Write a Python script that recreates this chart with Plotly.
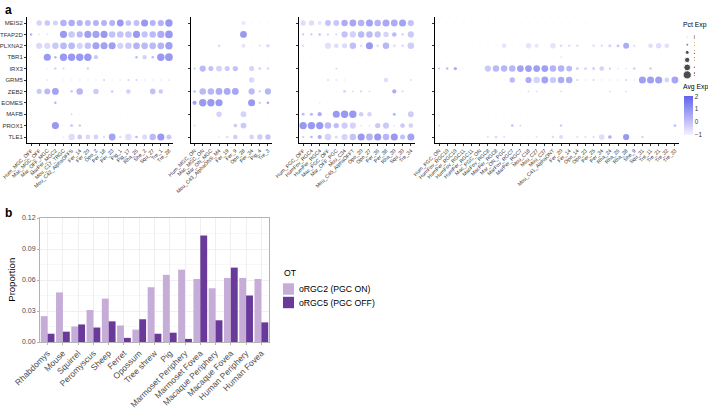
import plotly.graph_objects as go

W, H = 708, 414


def px_x(p):
    return p / W


def px_y(p):
    return 1 - p / H


FONT = "Liberation Sans, Arial, sans-serif"

# ---------------- Panel a data ----------------
genes = ["MEIS2", "TFAP2D", "PLXNA2", "TBR1", "IRX3", "GRM5", "ZEB2", "EOMES", "MAFB", "PROX1", "TLE1"]

f1_labels = ["Hum_MGC_OFF", "Mac_MGC_OFF", "Mar_OFF_MGC", "MarPer_MGC2", "Mou_C17_TRGC", "Mou_C42_AlphaOFFS",
             "Fer_14", "Fer_20", "Opo_2", "Per_18", "Per_23", "Pig_1", "Pig_17", "Rha_26", "She_2", "Squ_27",
             "Tre_1", "Tre_28"]
f1_pct = [
    [3, 30, 32, 28, 38, 38, 36, 34, 34, 34, 34, 40, 32, 34, 42, 34, 36, 44],
    [10, 5, 5, 2, 42, 38, 36, 42, 42, 42, 38, 38, 38, 42, 36, 38, 42, 46],
    [3, 36, 36, 38, 40, 40, 36, 38, 42, 42, 42, 36, 38, 40, 40, 40, 40, 44],
    [2, 2, 42, 10, 44, 44, 44, 44, 22, 2, 2, 2, 2, 10, 24, 10, 44, 46],
    [2, 2, 3, 10, 8, 2, 2, 10, 2, 2, 2, 2, 2, 2, 2, 2, 2, 2],
    [2, 2, 5, 2, 3, 3, 3, 3, 3, 8, 3, 3, 8, 6, 3, 3, 3, 5],
    [3, 28, 34, 40, 3, 12, 38, 3, 30, 3, 10, 3, 24, 3, 3, 32, 24, 3],
    [2, 2, 2, 10, 2, 2, 2, 2, 2, 2, 2, 2, 2, 2, 2, 2, 2, 2],
    [2, 2, 2, 3, 2, 5, 2, 2, 2, 2, 2, 2, 2, 2, 2, 2, 2, 2],
    [2, 2, 2, 42, 2, 14, 10, 2, 2, 2, 2, 2, 2, 2, 2, 2, 2, 2],
    [2, 2, 2, 2, 5, 38, 26, 26, 26, 10, 40, 10, 38, 12, 28, 38, 42, 28],
]
f1_exp = [
    [-1, 0, 0.3, 0, 1, 1.2, 1, 0.8, 1, 1, 1, 1.8, 0.5, 0.6, 1.8, 1, 1, 1.8],
    [1, -0.5, -0.5, -1, 1.8, 0.3, 0.8, 1.6, 1.5, 1.8, 0.5, 0.5, 0.5, 1.8, 0.5, 0.8, 1.2, 1.8],
    [-1, -0.2, -0.2, 0.3, 0.8, 0.8, 0, 0.5, 1.5, 1.5, 1.6, 0, 0.3, 1, 0.8, 0.8, 1, 1.6],
    [-1, -1, 1.8, 1, 1.8, 1.8, 1.8, 1.8, 0.3, -1, -1, -1, -1, 0.8, 0, 0.8, 1.8, 1.8],
    [-1, -1, -0.5, 0, 0, -1, -1, 0, -1, -1, -1, -1, -1, -1, -1, -1, -1, -1],
    [-1, -1, -0.3, -1, -0.5, -0.5, -0.5, -0.5, -0.5, 0, -0.5, -0.5, 0, 0.2, -0.5, -0.5, -0.5, -0.3],
    [-1, 0.3, 0.8, 1.5, -1, 0.2, 0.9, -1, 0.3, -1, 0.3, -1, 0.1, -1, -1, 0.6, 0.3, -1],
    [-1, -1, -1, 1, -1, -1, -1, -1, -1, -1, -1, -1, -1, -1, -1, -1, -1, -1],
    [-1, -1, -1, -1, -1, 0, -1, -1, -1, -1, -1, -1, -1, -1, -1, -1, -1, -1],
    [-1, -1, -1, 1.8, -1, 0.2, 0.3, -1, -1, -1, -1, -1, -1, -1, -1, -1, -1, -1],
    [-1, -1, -1, -1, -0.5, -0.3, 0.3, -0.2, 0, -0.3, 1.5, -0.3, -0.3, 0.8, -0.2, 0.8, 1.8, 0.3],
]

f2_labels = ["Hum_MGC_ON", "Mac_MGC_ON", "Mar_ON_MGC", "Mou_C43_AlphaONS_M4", "Fer_19", "Fer_9",
             "Opo_28", "Per_34", "Pig_4", "Tre_3"]
f2_pct = [
    [2, 2, 2, 2, 2, 2, 22, 3, 3, 3],
    [2, 2, 2, 2, 2, 2, 40, 3, 2, 2],
    [2, 2, 2, 12, 3, 3, 20, 3, 10, 18],
    [2, 2, 2, 2, 2, 2, 2, 2, 2, 2],
    [8, 36, 28, 34, 28, 30, 4, 28, 12, 10],
    [2, 2, 2, 2, 2, 2, 2, 30, 3, 3],
    [10, 38, 38, 40, 40, 40, 3, 36, 8, 36],
    [22, 44, 44, 42, 2, 2, 2, 42, 8, 12],
    [2, 2, 2, 30, 2, 2, 34, 3, 2, 2],
    [5, 2, 2, 3, 2, 18, 34, 3, 2, 2],
    [2, 2, 2, 5, 12, 24, 4, 26, 30, 30],
]
f2_exp = [
    [-1, -1, -1, -1, -1, -1, -0.6, -1, -1, -1],
    [-1, -1, -1, -1, -1, -1, 1.8, -1, -1, -1],
    [-1, -1, -1, -0.3, -1, -1, -0.5, -1, -0.5, -0.2],
    [-1, -1, -1, -1, -1, -1, -1, -1, -1, -1],
    [0.3, 0.8, 0.6, 0, 0.3, 0.5, -1, 0, 0, 0],
    [-1, -1, -1, -1, -1, -1, -1, -0.2, -1, -1],
    [0.8, 0.8, 0.9, 1.2, 1.3, 1.4, -1, 0.8, 0.3, 0.9],
    [1.5, 1.8, 1.8, 1.8, -1, -1, -1, 1.8, 0.5, 1.2],
    [-1, -1, -1, 0, -1, -1, 0, -1, -1, -1],
    [0, -1, -1, -1, -1, 0.3, 0.3, -1, -1, -1],
    [-1, -1, -1, -0.5, -0.3, 0.2, -1, 0, 0.2, 0.5],
]

f3_labels = ["Hum_PGC_OFF", "HumFov_RGC4", "HumPer_RGC4", "Mac_PGC_OFF", "Mar_OFF_PGC", "Mou_C34",
             "Mou_C45_AlphaOFFT", "Opo_20", "Opo_27", "Per_36", "Per_38", "Rha_30", "Squ_30", "Tre_34"]
f3_pct = [
    [30, 30, 20, 34, 34, 38, 40, 38, 42, 38, 42, 40, 42, 36],
    [8, 8, 10, 10, 8, 36, 36, 38, 38, 36, 30, 24, 12, 36],
    [8, 3, 3, 36, 26, 28, 38, 10, 42, 12, 38, 12, 12, 38],
    [2, 2, 2, 2, 2, 2, 2, 2, 2, 2, 2, 2, 2, 2],
    [2, 2, 2, 2, 6, 2, 2, 2, 2, 2, 2, 2, 2, 2],
    [2, 2, 2, 8, 6, 4, 3, 3, 3, 3, 24, 3, 3, 8],
    [2, 2, 2, 3, 3, 12, 6, 8, 6, 3, 3, 22, 6, 3],
    [2, 2, 3, 2, 2, 2, 2, 2, 2, 2, 2, 2, 2, 2],
    [12, 14, 22, 3, 42, 44, 44, 24, 24, 3, 3, 14, 3, 34],
    [44, 44, 44, 38, 30, 36, 36, 6, 6, 30, 36, 5, 26, 26],
    [8, 12, 22, 38, 14, 36, 38, 42, 40, 42, 38, 42, 28, 42],
]
f3_exp = [
    [-0.3, -0.3, -0.5, 0.5, 0.4, 1.2, 1.4, 1.0, 1.5, 1.0, 1.3, 1.2, 1.5, 0.5],
    [0.3, 0.3, 0.6, -0.2, -0.3, 0.5, 0.1, 0.8, 0.8, 0.5, 0, 0.8, -0.2, 0.3],
    [-0.3, -1, -1, -0.4, -0.3, -0.2, 0.6, -0.3, 1.8, -0.3, 0.9, -0.3, -0.3, 0.2],
    [-1, -1, -1, -1, -1, -1, -1, -1, -1, -1, -1, -1, -1, -1],
    [-1, -1, -1, -1, 0, -1, -1, -1, -1, -1, -1, -1, -1, -1],
    [-1, -1, -1, -0.2, -0.5, -0.6, -1, -1, -1, -1, -0.3, -1, -1, -0.5],
    [-1, -1, -1, -1, -1, 0, -0.3, 0, -0.3, -1, -1, 1.2, 0, -1],
    [-1, -1, -0.5, -1, -1, -1, -1, -1, -1, -1, -1, -1, -1, -1],
    [0.8, 0.8, 1.2, -1, 1.8, 1.8, 1.8, 0.2, 0, -1, -1, 0.8, -1, 0.2],
    [1.8, 1.8, 1.8, 0.8, 0.7, 0.2, 0, -0.5, -0.5, 0.3, 0.3, -0.5, 0.3, 0],
    [0.3, 0.8, 1.2, 0, -0.2, 0, 0.5, 1.8, 1, 1.8, 0.9, 1.8, 0.6, 1.5],
]

f4_labels = ["Hum_PGC_ON", "HumFov_RGC10", "HumPer_RGC10", "HumFov_RGC11", "HumPer_RGC11", "Mac_PGC_ON",
             "MacFov_RGC8", "MacPer_RGC8", "Mar_ON_PGC", "MarFov_RGC7", "MarPer_RGC7", "Mou_C18", "Mou_C27",
             "Mou_C37", "Mou_C41_AlphaONT", "Fer_20", "Fer_14", "Opo_14", "Opo_23", "Per_25", "Per_34",
             "Rha_24", "Rha_26", "Rha_28", "She_9", "Squ_31", "Tre_11", "Tre_21", "Tre_32", "Tre_33"]
f4_pct = [
    [2, 2, 2, 3, 2, 2, 2, 2, 2, 3, 2, 2, 2, 2, 2, 3, 2, 2, 3, 2, 2, 3, 2, 2, 3, 2, 2, 2, 2, 2],
    [2, 2, 2, 2, 2, 2, 2, 2, 2, 2, 3, 2, 2, 2, 2, 2, 2, 2, 2, 3, 2, 2, 2, 2, 2, 2, 3, 2, 2, 2],
    [2, 2, 2, 2, 2, 3, 3, 3, 24, 3, 3, 30, 22, 3, 32, 12, 10, 10, 4, 10, 10, 14, 14, 34, 8, 3, 24, 30, 26, 3],
    [2, 2, 2, 2, 2, 2, 2, 2, 2, 2, 2, 2, 2, 2, 2, 5, 2, 2, 2, 2, 2, 2, 2, 2, 2, 2, 2, 2, 2, 2],
    [8, 10, 16, 3, 3, 3, 36, 38, 38, 38, 40, 40, 40, 40, 38, 38, 34, 14, 14, 14, 26, 8, 5, 6, 12, 3, 10, 3, 3, 3],
    [2, 2, 2, 2, 2, 2, 3, 3, 4, 30, 3, 36, 38, 40, 36, 38, 38, 8, 4, 8, 4, 4, 4, 8, 4, 42, 42, 42, 26, 40],
    [2, 2, 2, 2, 2, 2, 3, 3, 3, 3, 3, 5, 5, 3, 3, 6, 3, 3, 3, 3, 3, 5, 3, 5, 3, 3, 3, 3, 3, 3],
    [2, 2, 2, 2, 2, 2, 2, 2, 2, 2, 2, 2, 2, 2, 2, 2, 2, 2, 2, 2, 2, 2, 2, 2, 2, 2, 2, 2, 2, 2],
    [2, 2, 2, 2, 2, 2, 2, 3, 2, 2, 3, 2, 2, 3, 2, 2, 2, 2, 2, 2, 2, 2, 2, 2, 2, 2, 2, 2, 2, 2],
    [6, 2, 2, 2, 2, 2, 3, 3, 3, 12, 6, 3, 3, 3, 3, 10, 3, 3, 3, 3, 3, 3, 3, 3, 3, 3, 3, 3, 3, 14],
    [2, 2, 2, 2, 2, 2, 8, 14, 8, 3, 3, 3, 6, 3, 10, 20, 3, 8, 8, 6, 32, 18, 3, 36, 3, 10, 3, 3, 3, 3],
]
f4_exp = [
    [-1, -1, -1, -1, -1, -1, -1, -1, -1, -1, -1, -1, -1, -1, -1, -1, -1, -1, -1, -1, -1, -1, -1, -1, -1, -1, -1, -1, -1, -1],
    [-1, -1, -1, -1, -1, -1, -1, -1, -1, -1, -1, -1, -1, -1, -1, -1, -1, -1, -1, -1, -1, -1, -1, -1, -1, -1, -1, -1, -1, -1],
    [-1, -1, -1, -1, -1, -1, -1, -1, -0.5, -1, -1, -0.5, -0.6, -1, -0.5, -0.3, -0.3, -0.3, -1, -0.3, -0.3, 0, 0.3, 1.2, -0.2, -1, -0.3, -0.3, -0.4, -1],
    [-1, -1, -1, -1, -1, -1, -1, -1, -1, -1, -1, -1, -1, -1, -1, -0.5, -1, -1, -1, -1, -1, -1, -1, -1, -1, -1, -1, -1, -1, -1],
    [0.3, 0.8, 1.2, -1, -1, -1, 0.3, 0.8, 0.9, 0.9, 1.5, 1.6, 1.6, 1.6, 1.0, 1.0, 0.8, 0, -0.2, 0, 0, 0.3, -0.5, -0.5, 0, -1, 0.3, -1, -1, -1],
    [-1, -1, -1, -1, -1, -1, -1, -1, -1, 0.8, -1, 1.2, 0, 1.5, 0.3, 1.2, 1.2, 0, -0.5, 0, -0.5, -0.5, -0.5, 0, -0.5, 1.6, 1.6, 1.6, 0, 1.4],
    [-1, -1, -1, -1, -1, -1, -1, -1, -1, -1, -1, -0.3, -0.3, -1, -1, -0.3, -1, -1, -1, -1, -1, -0.3, -1, -0.3, -1, -1, -1, -1, -1, -1],
    [-1, -1, -1, -1, -1, -1, -1, -1, -1, -1, -1, -1, -1, -1, -1, -1, -1, -1, -1, -1, -1, -1, -1, -1, -1, -1, -1, -1, -1, -1],
    [-1, -1, -1, -1, -1, -1, -1, -1, -1, -1, -1, -1, -1, -1, -1, -1, -1, -1, -1, -1, -1, -1, -1, -1, -1, -1, -1, -1, -1, -1],
    [0, -1, -1, -1, -1, -1, -1, -1, -1, 0.5, 0, -1, -1, -1, -1, 0.3, -1, -1, -1, -1, -1, -1, -1, -1, -1, -1, -1, -1, -1, 0.3],
    [-1, -1, -1, -1, -1, -1, -0.3, -0.3, -0.3, -1, -1, -1, -0.5, -1, -0.3, -0.2, -1, -0.3, -0.3, 0, -0.3, 1.2, -1, 1.8, -1, 0, -1, -1, -1, -1],
]

pct_legend = [0, 10, 20, 30, 40, 50]

# ---------------- Panel b data ----------------
species = ["Rhabdomys", "Mouse", "Squirrel", "Peromyscus", "Sheep", "Ferret", "Opossum", "Tree shrew", "Pig",
           "Marmoset Periphery", "Marmoset Fovea", "Macaque Periphery", "Macaque Fovea", "Human Periphery",
           "Human Fovea"]
orgc2_on = [0.025, 0.048, 0.015, 0.031, 0.042, 0.016, 0.012, 0.053, 0.065, 0.070, 0.061, 0.052, 0.062, 0.062, 0.061]
orgc5_off = [0.008, 0.010, 0.017, 0.014, 0.020, 0.004, 0.022, 0.008, 0.009, 0.003, 0.103, 0.021, 0.072, 0.045, 0.019]
ot_names = ["oRGC2 (PGC ON)", "oRGC5 (PGC OFF)"]
ot_colors = ["#C6ADD8", "#6A3A9A"]


def dot_size(p):
    return 1.0 + 0.145 * p


fig = go.Figure()

facets = [(f1_labels, f1_pct, f1_exp), (f2_labels, f2_pct, f2_exp),
          (f3_labels, f3_pct, f3_exp), (f4_labels, f4_pct, f4_exp)]
x_domains = [(27, 173), (190.5, 272), (299, 415), (435, 679)]
y_dom = [px_y(142.7), px_y(17.3)]

layout_axes = {}
for i, (labels, pct, exp) in enumerate(facets):
    xs, ys, ss, cs = [], [], [], []
    for gi, g in enumerate(genes):
        for ci, lab in enumerate(labels):
            xs.append(lab)
            ys.append(g)
            ss.append(dot_size(pct[gi][ci]))
            cs.append(exp[gi][ci])
    sfx = "" if i == 0 else str(i + 1)
    fig.add_trace(go.Scatter(
        x=xs, y=ys, mode="markers", xaxis="x" + sfx, yaxis="y" + sfx,
        marker=dict(size=ss, color=cs, coloraxis="coloraxis", line=dict(width=0)),
        showlegend=False, hoverinfo="skip"))
    d0, d1 = x_domains[i]
    layout_axes["xaxis" + sfx] = dict(
        domain=[px_x(d0), px_x(d1)], anchor="y" + sfx, type="category", automargin=False,
        categoryorder="array", categoryarray=labels, range=[-0.5, len(labels) - 0.5],
        showline=True, linecolor="black", linewidth=1, ticks="outside", ticklen=2, tickwidth=0.8,
        tickcolor="black", tickangle=-45, tickfont=dict(size=5.2, color="#333333", family=FONT),
        showgrid=False, zeroline=False, fixedrange=True)
    layout_axes["yaxis" + sfx] = dict(
        domain=y_dom, anchor="x" + sfx, type="category", categoryorder="array", categoryarray=genes,
        automargin=False, range=[len(genes) - 0.5, -0.5], showline=True, linecolor="black", linewidth=1,
        ticks="outside", ticklen=2, tickwidth=0.8, tickcolor="black",
        showticklabels=(i == 0), tickfont=dict(size=6, color="#333333", family=FONT),
        showgrid=False, zeroline=False, fixedrange=True)

# size legend
fig.add_trace(go.Scatter(
    x=[0.35] * len(pct_legend), y=list(range(len(pct_legend))), mode="markers",
    xaxis="x6", yaxis="y6", marker=dict(size=[dot_size(p) for p in pct_legend], color="black"),
    showlegend=False, hoverinfo="skip"))
fig.add_trace(go.Scatter(
    x=[0.9] * len(pct_legend), y=list(range(len(pct_legend))), mode="text",
    text=[str(p) for p in pct_legend], textposition="middle right",
    textfont=dict(size=6, color="#333333", family=FONT),
    xaxis="x6", yaxis="y6", showlegend=False, hoverinfo="skip"))
layout_axes["xaxis6"] = dict(domain=[px_x(683), px_x(695)], anchor="y6", range=[0, 1], visible=False,
                             automargin=False, fixedrange=True)
layout_axes["yaxis6"] = dict(domain=[px_y(78.7), px_y(33.6)], anchor="x6", range=[5.5, -0.5], visible=False,
                             automargin=False, fixedrange=True)

# panel b bars
fig.add_trace(go.Bar(x=species, y=orgc2_on, name=ot_names[0], marker=dict(color=ot_colors[0], line=dict(width=0)),
                     xaxis="x5", yaxis="y5", hoverinfo="skip", showlegend=False))
fig.add_trace(go.Bar(x=species, y=orgc5_off, name=ot_names[1], marker=dict(color=ot_colors[1], line=dict(width=0)),
                     xaxis="x5", yaxis="y5", hoverinfo="skip", showlegend=False))
layout_axes["xaxis5"] = dict(
    domain=[px_x(40), px_x(269)], anchor="y5", type="category", categoryorder="array", categoryarray=species,
    automargin=False, range=[-0.5, len(species) - 0.5], showline=True, mirror=True, linecolor="#B3B3B3",
    linewidth=1, ticks="outside", ticklen=2, tickcolor="#B3B3B3", tickangle=-45,
    tickfont=dict(size=8.5, color="#4D4D4D", family=FONT), showgrid=True, gridcolor="#EBEBEB", gridwidth=0.8,
    zeroline=False, fixedrange=True)
layout_axes["yaxis5"] = dict(
    domain=[px_y(342), px_y(217.5)], anchor="x5", range=[0, 0.1205], tickvals=[0, 0.03, 0.06, 0.09, 0.12],
    ticktext=["0.00", "0.03", "0.06", "0.09", "0.12"], showline=True, mirror=True, linecolor="#B3B3B3",
    linewidth=1, ticks="outside", ticklen=2, tickcolor="#B3B3B3", automargin=False,
    tickfont=dict(size=7, color="#4D4D4D", family=FONT), showgrid=True, gridcolor="#EBEBEB", gridwidth=0.8,
    minor=dict(tickvals=[0.015, 0.045, 0.075, 0.105], showgrid=True, gridcolor="#F5F5F5", ticks=""),
    zeroline=False, fixedrange=True,
    title=dict(text="Proportion", font=dict(size=9.5, color="black", family=FONT), standoff=4))

annotations = [
    dict(text="<b>a</b>", x=px_x(3), y=px_y(1), xref="paper", yref="paper", xanchor="left", yanchor="top",
         showarrow=False, font=dict(size=12, color="black", family=FONT)),
    dict(text="<b>b</b>", x=px_x(3), y=px_y(204), xref="paper", yref="paper", xanchor="left", yanchor="top",
         showarrow=False, font=dict(size=12, color="black", family=FONT)),
    dict(text="Pct Exp", x=px_x(681), y=px_y(25), xref="paper", yref="paper", xanchor="left", yanchor="middle",
         showarrow=False, font=dict(size=6.8, color="black", family=FONT)),
    dict(text="Avg Exp", x=px_x(681), y=px_y(86.5), xref="paper", yref="paper", xanchor="left", yanchor="middle",
         showarrow=False, font=dict(size=6.8, color="black", family=FONT)),
    dict(text="OT", x=px_x(282), y=px_y(273), xref="paper", yref="paper", xanchor="left", yanchor="middle",
         showarrow=False, font=dict(size=8.7, color="black", family=FONT)),
]
shapes = []
for k, (nm, col) in enumerate(zip(ot_names, ot_colors)):
    yc = 289 + k * 13.5
    shapes.append(dict(type="rect", xref="paper", yref="paper", x0=px_x(283), x1=px_x(294),
                       y0=px_y(yc - 5.7), y1=px_y(yc + 5.7), fillcolor=col, line=dict(width=0)))
    annotations.append(dict(text=nm, x=px_x(297), y=px_y(yc), xref="paper", yref="paper", xanchor="left",
                            yanchor="middle", showarrow=False, font=dict(size=8.7, color="black", family=FONT)))

fig.update_layout(
    width=W, height=H, margin=dict(l=0, r=0, t=0, b=0, autoexpand=False),
    paper_bgcolor="white", plot_bgcolor="white",
    font=dict(family=FONT, size=8, color="black"),
    barmode="group", bargap=0.1, bargroupgap=0, showlegend=False, hovermode=False,
    coloraxis=dict(
        cmin=-1.05, cmax=2.05, colorscale=[[0, "#F4F2FD"], [1, "#6262EC"]],
        colorbar=dict(x=px_x(684), xanchor="left", y=px_y(115.5), yanchor="middle", len=39, lenmode="pixels",
                      thickness=9, tickvals=[-1, 0, 1, 2], ticktext=["\u22121", "0", "1", "2"],
                      tickfont=dict(size=6.3, color="#333333", family=FONT), outlinewidth=0, ticks="",
                      xpad=0, ypad=0)),
    annotations=annotations,
    shapes=shapes,
    **layout_axes,
)

fig.write_html("out.html", config={"displayModeBar": False, "staticPlot": True},
               post_script="document.body.style.margin='0px';")
